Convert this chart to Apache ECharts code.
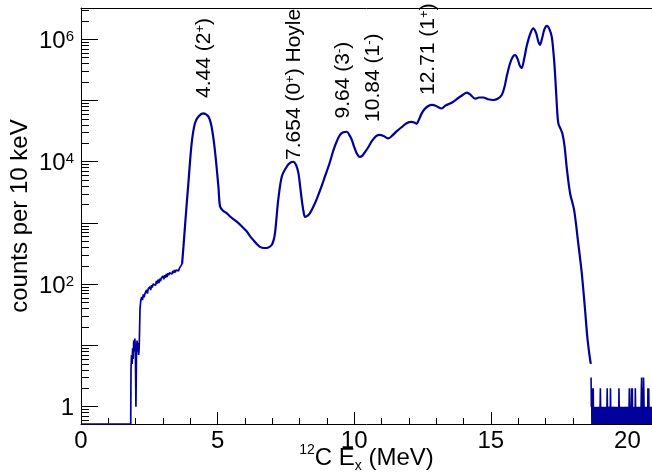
<!DOCTYPE html>
<html>
<head>
<meta charset="utf-8">
<script src="https://cdn.jsdelivr.net/npm/echarts@6/dist/echarts.min.js"></script>
<style>
  html, body { margin: 0; padding: 0; background: #fff; }
  #c { width: 652px; height: 476px; }
</style>
</head>
<body>
<div id="c"></div>
<script>
// 12C excitation-energy spectrum, counts per 10 keV bin.

// Low-energy threshold region (MeV, counts)
const lowE = [0, 1.82, 1.83, 1.85, 1.87, 1.89, 1.91, 1.93, 1.95, 1.97,
  1.99, 2.01, 2.03, 2.05, 2.07, 2.09, 2.11, 2.13, 2.16, 2.19,
  2.22, 2.25, 2.28, 2.31, 2.34, 2.37, 2.40, 2.43, 2.46, 2.49,
  2.52, 2.55, 2.58, 2.61, 2.64, 2.67, 2.70, 2.73, 2.76, 2.79,
  2.82, 2.85, 2.88, 2.91, 2.94, 2.97, 3.00, 3.03, 3.06, 3.09,
  3.12, 3.15, 3.18, 3.21, 3.24, 3.27, 3.30, 3.33, 3.36, 3.39,
  3.42, 3.45, 3.48, 3.51, 3.54, 3.57, 3.60, 3.63, 3.66, 3.70];
const lowCounts = [0, 0, 4, 7, 5, 9, 6, 12, 8, 13,
  9, 1, 7, 12, 8, 11, 7, 9, 40, 55,
  62, 55, 68, 61, 70, 66, 81, 70, 84, 79,
  91, 80, 97, 88, 101, 94, 108, 96, 113, 102,
  119, 104, 123, 112, 126, 118, 136, 120, 140, 127,
  147, 131, 151, 140, 153, 144, 162, 147, 165, 152,
  170, 156, 171, 163, 178, 165, 181, 172, 186, 215];

// Main spectrum, from the 4.44 MeV state up to the cut-off
const mainE = [3.70, 3.75, 3.84, 3.93, 4.05, 4.17, 4.30, 4.48, 4.66, 4.78,
  4.90, 5.03, 5.09, 5.20, 5.33, 5.50, 5.70, 5.90, 6.07, 6.20,
  6.31, 6.45, 6.55, 6.70, 6.80, 6.90, 6.98, 7.05, 7.10, 7.16,
  7.22, 7.35, 7.53, 7.65, 7.77, 7.88, 7.96, 8.02, 8.08, 8.14,
  8.20, 8.30, 8.38, 8.50, 8.62, 8.78, 8.93, 9.10, 9.24, 9.36,
  9.48, 9.60, 9.73, 9.82, 9.91, 10.00, 10.09, 10.20, 10.30, 10.40,
  10.52, 10.65, 10.80, 10.94, 11.08, 11.25, 11.40, 11.56, 11.75, 11.92,
  12.10, 12.20, 12.28, 12.38, 12.47, 12.58, 12.71, 12.85, 12.96, 13.08,
  13.20, 13.35, 13.51, 13.66, 13.81, 13.97, 14.12, 14.27, 14.42, 14.57,
  14.73, 14.90, 15.09, 15.25, 15.40, 15.50, 15.58, 15.70, 15.80, 15.89,
  15.98, 16.06, 16.13, 16.22, 16.31, 16.42, 16.55, 16.66, 16.74, 16.80,
  16.88, 16.96, 17.05, 17.14, 17.23, 17.30, 17.35, 17.42, 17.47, 17.55,
  17.62, 17.70, 17.78, 17.90, 18.05, 18.20, 18.33, 18.45, 18.53, 18.61, 18.66];
const mainCounts = [215, 410, 1400, 4470, 20000, 42700, 55000, 61700, 55000, 37200,
  15500, 3900, 1860, 1580, 1450, 1230, 1050, 870, 725, 600,
  525, 447, 407, 390, 390, 407, 436, 525, 676, 1260,
  2400, 5750, 8300, 9550, 10000, 8700, 6460, 4000, 2400, 1580,
  1260, 1320, 1450, 1820, 2400, 3700, 5750, 9550, 15500, 21400,
  27500, 30200, 30900, 27500, 22900, 17400, 13800, 12000, 12600, 14500,
  17400, 21900, 26300, 27500, 26300, 24000, 26900, 31600, 37200, 42700,
  44700, 43600, 41700, 50100, 61700, 72400, 81300, 85100, 83200, 77600,
  74100, 83200, 89100, 97700, 110000, 123000, 135000, 123000, 107000, 112000,
  112000, 105000, 102000, 107000, 123000, 166000, 245000, 398000, 513000, 550000,
  479000, 372000, 339000, 479000, 759000, 1150000, 1510000, 1260000, 912000, 813000,
  1050000, 1450000, 1660000, 1480000, 1100000, 562000, 282000, 79400, 42700, 34700,
  28800, 17800, 7940, 3090, 1620, 468, 151, 38, 14, 7, 5];

// Background tail above the cut-off, one value per 10 keV bin
const tailStart = 18.67;
const tailBinWidth = 0.01;
const tailCounts = [
  3,1,2,0,1,1,0,1,2,0, 1,0,1,1,1,0,1,0,1,0, 0,1,0,1,0,1,1,1,0,1,
  0,1,0,1,2,1,0,1,0,1, 1,0,1,0,0,1,0,1,1,1, 0,1,0,1,0,0,1,0,1,2,
  1,0,1,0,1,1,1,1,0,1, 0,2,1,0,1,0,0,1,0,1, 0,1,1,1,1,0,1,0,1,0,
  1,0,1,0,1,1,0,1,0,0, 1,0,2,1,0,1,0,1,1,1, 1,0,1,0,1,0,1,0,1,1,
  0,1,0,1,0,1,1,1,1,0, 1,0,1,0,1,0,0,1,0,1, 2,1,0,1,0,1,0,1,2,0,
  1,2,0,1,0,1,0,1,0,1, 1,0,2,1,0,1,0,1,1,0, 1,0,1,0,1,0,1,1,0,1,
  0,1,0,1,2,3,1,0,2,1, 0,1,3,2,1,0,1,0,1,0, 1,1,1,0,1,0,1,0,2,1,
  0,2,1,0,1,0,1,1,0,1, 0,1,0,1];

// State labels: energy (MeV), spin, parity, extra name, anchor (E, counts)
const stateNames = ['4.44', '7.654', '9.64', '10.84', '12.71'];
const stateSpins = ['2', '0', '3', '1', '1'];
const stateParity = ['+', '+', '-', '-', '+'];
const stateExtra = ['', 'Hoyle', '', '', ''];
const stateLabelE = [4.50, 7.80, 9.60, 10.70, 12.71];
const stateLabelCounts = [110000, 10700, 51000, 44700, 123000];

// Axis ticks
const xMajorTicks = [0, 5, 10, 15, 20];
const xMinorTicks = [];
for (let i = 0; i <= 20; i++) xMinorTicks.push(i);
const yLabelDecades = [0, 2, 4, 6];
const yMajorDecades = [0, 1, 2, 3, 4, 5, 6];
const yMinorTicks = [];
for (let d = -1; d <= 6; d++) {
  for (let k = 2; k <= 9; k++) yMinorTicks.push(Math.log10(k) + d);
}

// Axis ranges (x in MeV, y in log10(counts))
const X_MAX = 20.9;
const Y_MIN = -0.283;
const Y_MAX = 6.511;

const FONT = '"Liberation Sans", Arial, Helvetica, sans-serif';
const LINE = '#00009c';

// Log-scale height of a bin; empty bins sit on the bottom of the frame
const logCount = c => (c > 0 ? Math.log10(c) : Y_MIN);

const lowData = lowE.map((e, i) => [e, logCount(lowCounts[i])]);
const mainData = mainE.map((e, i) => [e, logCount(mainCounts[i])]);
const tailData = tailCounts.map((c, i) => [+(tailStart + i * tailBinWidth).toFixed(2), logCount(c)]);

const stateText = i =>
  '{b|' + stateNames[i] + ' (' + stateSpins[i] + '}{s|' + stateParity[i] + '}{b|)' +
  (stateExtra[i] ? ' ' + stateExtra[i] : '') + '}';

const baseAxis = {
  type: 'value',
  gridIndex: 0,
  splitLine: { show: false },
  minorTick: { show: false },
  minorSplitLine: { show: false },
};

const chart = echarts.init(document.getElementById('c'), null, { renderer: 'canvas' });
chart.setOption({
  animation: false,
  backgroundColor: '#fff',
  grid: { left: 81, right: 0, top: 8, bottom: 52, containLabel: false, outerBoundsMode: 'none' },
  xAxis: [
    Object.assign({}, baseAxis, {
      position: 'bottom', min: 0, max: X_MAX,
      axisLine: { show: true, onZero: false, lineStyle: { color: '#000', width: 1 } },
      axisTick: { show: true, inside: true, length: 12, customValues: xMajorTicks, lineStyle: { color: '#000', width: 1 } },
      axisLabel: { show: true, customValues: xMajorTicks, margin: 5, color: '#000', fontSize: 24, fontFamily: FONT },
      name: '{sup|12}{t|C E}{sub|x}{t| (MeV)}',
      nameLocation: 'middle',
      nameGap: 19,
      nameMoveOverlap: false,
      nameTextStyle: {
        color: '#000', fontFamily: FONT, fontSize: 24,
        rich: {
          t: { fontSize: 24, lineHeight: 30, fontFamily: FONT, color: '#000' },
          sup: { fontSize: 14, lineHeight: 18, verticalAlign: 'top', fontFamily: FONT, color: '#000' },
          sub: { fontSize: 14, lineHeight: 10, verticalAlign: 'bottom', fontFamily: FONT, color: '#000' }
        }
      }
    }),
    Object.assign({}, baseAxis, {
      position: 'bottom', min: 0, max: X_MAX,
      axisLine: { show: false, onZero: false },
      axisTick: { show: true, inside: true, length: 6, customValues: xMinorTicks, lineStyle: { color: '#000', width: 1 } },
      axisLabel: { show: false }
    }),
    Object.assign({}, baseAxis, {
      position: 'top', min: 0, max: X_MAX,
      axisLine: { show: true, onZero: false, lineStyle: { color: '#000', width: 1 } },
      axisTick: { show: false },
      axisLabel: { show: false }
    })
  ],
  yAxis: [
    Object.assign({}, baseAxis, {
      position: 'left', min: Y_MIN, max: Y_MAX,
      axisLine: { show: true, onZero: false, lineStyle: { color: '#000', width: 1 } },
      axisTick: { show: true, inside: true, length: 17, customValues: yMajorDecades, lineStyle: { color: '#000', width: 1 } },
      axisLabel: {
        show: true, customValues: yLabelDecades, margin: 7, padding: [4, 0, 0, 0],
        formatter: v => (Math.round(v) === 0 ? '{b|1}' : '{b|10}{s|' + Math.round(v) + '}'),
        rich: {
          b: { fontSize: 24, fontFamily: FONT, color: '#000' },
          s: { fontSize: 15, lineHeight: 11, verticalAlign: 'top', fontFamily: FONT, color: '#000' }
        }
      },
      name: 'counts per 10 keV',
      nameLocation: 'middle',
      nameRotate: 90,
      nameGap: 49,
      nameMoveOverlap: false,
      nameTextStyle: { color: '#000', fontFamily: FONT, fontSize: 24 }
    }),
    Object.assign({}, baseAxis, {
      position: 'left', min: Y_MIN, max: Y_MAX,
      axisLine: { show: false, onZero: false },
      axisTick: { show: true, inside: true, length: 8, customValues: yMinorTicks, lineStyle: { color: '#000', width: 1 } },
      axisLabel: { show: false }
    })
  ],
  series: [
    {
      type: 'line', xAxisIndex: 0, yAxisIndex: 0, data: lowData, z: 3,
      showSymbol: false, smooth: false, clip: true, silent: true,
      lineStyle: { color: LINE, width: 1.7 }
    },
    {
      type: 'line', xAxisIndex: 0, yAxisIndex: 0, data: mainData, z: 3,
      showSymbol: false, smooth: 0.3, clip: true, silent: true,
      lineStyle: { color: LINE, width: 2.2 },
      markPoint: {
        silent: true,
        symbol: 'circle',
        symbolSize: 0,
        itemStyle: { color: 'transparent' },
        label: {
          show: true,
          position: [0, 0],
          rotate: 90,
          align: 'left',
          verticalAlign: 'middle',
          color: '#000',
          formatter: p => stateText(p.dataIndex),
          rich: {
            b: { fontSize: 21, fontFamily: FONT, color: '#000' },
            s: { fontSize: 13, lineHeight: 12, verticalAlign: 'top', fontFamily: FONT, color: '#000' }
          }
        },
        data: stateLabelE.map((e, i) => ({ coord: [e, Math.log10(stateLabelCounts[i])] }))
      }
    },
    {
      type: 'line', xAxisIndex: 0, yAxisIndex: 0, data: tailData, z: 3,
      showSymbol: false, smooth: false, clip: true, silent: true,
      lineStyle: { color: LINE, width: 1.6 }
    }
  ]
});
</script>
</body>
</html>
